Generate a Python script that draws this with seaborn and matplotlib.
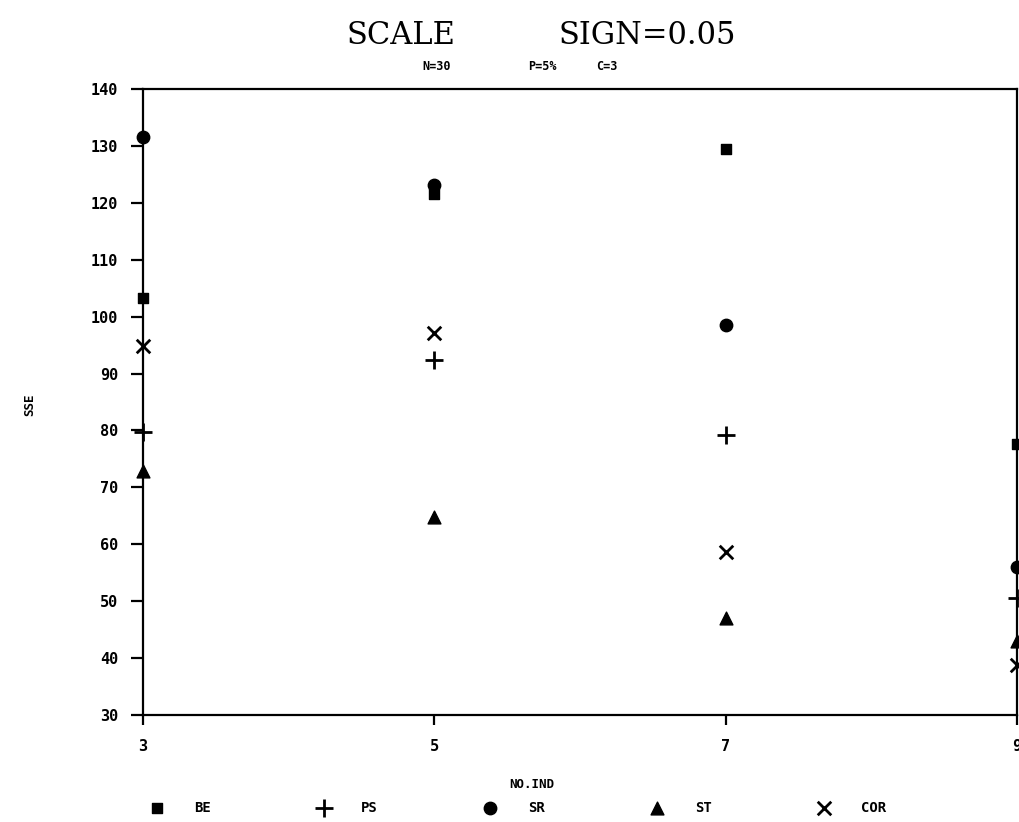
import pandas as pd
import numpy as np
import matplotlib
matplotlib.use("Agg")
import matplotlib.pyplot as plt
import seaborn as sns

# --- datos ---
n_ind = [3, 5, 7, 9]
sse_be = [103.3, 121.5, 129.5, 77.6]
sse_ps = [79.8, 92.3, 79.2, 50.6]
sse_sr = [131.5, 123.2, 98.6, 56.0]
sse_st = [72.8, 64.8, 47.0, 43.0]
sse_cor = [94.8, 97.2, 58.6, 38.8]

series = ["BE", "PS", "SR", "ST", "COR"]
y_ticks = list(range(30, 141, 10))
x_ticks = [3, 5, 7, 9]

marcadores = {"BE": "s", "PS": "+", "SR": "o", "ST": "^", "COR": "x"}
tamanos = {"BE": 55, "PS": 150, "SR": 80, "ST": 85, "COR": 95}

df = pd.DataFrame({
    "NO.IND": n_ind * len(series),
    "SSE": sse_be + sse_ps + sse_sr + sse_st + sse_cor,
    "serie": [s for s in series for _ in n_ind],
})

sns.set_style("ticks")
plt.rcParams["font.family"] = ["DejaVu Sans Mono"]
plt.rcParams["font.weight"] = "bold"
for k in ("text.color", "axes.labelcolor", "xtick.color", "ytick.color", "axes.edgecolor"):
    plt.rcParams[k] = "black"

fig = plt.figure(figsize=(10.19, 8.22), dpi=100)
ax = fig.add_axes([143 / 1019, 1 - 715 / 822, 874 / 1019, 626 / 822])

for s in series:
    m = marcadores[s]
    kw = dict(color="black", linewidth=2)
    if m in ("s", "o", "^"):
        kw = dict(color="black", edgecolor="black", linewidth=1)
    sns.scatterplot(data=df[df["serie"] == s], x="NO.IND", y="SSE", marker=m,
                    s=tamanos[s], ax=ax, label=s, clip_on=False, zorder=3, **kw)

ax.set_xlim(3, 9)
ax.set_ylim(30, 140)
ax.set_xticks(x_ticks)
ax.set_yticks(y_ticks)
ax.tick_params(axis="y", length=9, width=1.6, pad=9, labelsize=11)
ax.tick_params(axis="x", length=7, width=1.6, pad=10, labelsize=11)
for sp in ax.spines.values():
    sp.set_linewidth(1.6)
    sp.set_visible(True)

ax.set_xlabel("NO.IND", fontsize=9, fontweight="bold")
ax.set_ylabel("SSE", fontsize=9, fontweight="bold")
ax.xaxis.set_label_coords(0.445, -0.100)
ax.yaxis.set_label_coords(-0.122, 0.495)

# leyenda en una fila abajo
handles, labels = ax.get_legend_handles_labels()
ax.legend_.remove()
fig.legend(handles, labels, loc="center left", bbox_to_anchor=(150 / 1019, 1 - 808 / 822),
           ncol=5, frameon=False, fontsize=10, handlelength=1.0, handletextpad=2.2,
           columnspacing=7.6, borderpad=0, borderaxespad=0)

# titulos
fig.text(401 / 1019, 1 - 36 / 822, "SCALE", family="DejaVu Serif", fontsize=22,
         fontweight="normal", ha="center", va="center")
fig.text(647 / 1019, 1 - 36 / 822, "SIGN=0.05", family="DejaVu Serif", fontsize=22,
         fontweight="normal", ha="center", va="center")
fig.text(437 / 1019, 1 - 66 / 822, "N=30", fontsize=8.5, ha="center", va="center")
fig.text(542 / 1019, 1 - 66 / 822, "P=5%", fontsize=8.5, ha="center", va="center")
fig.text(607 / 1019, 1 - 66 / 822, "C=3", fontsize=8.5, ha="center", va="center")

fig.savefig("out.png", dpi=100)
